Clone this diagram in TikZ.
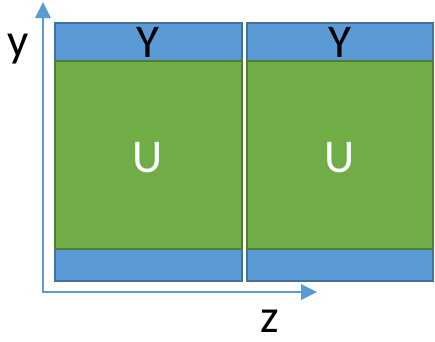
\documentclass[tikz,border=0pt]{standalone}
\usepackage{fontspec}
\setmainfont{Carlito}
\definecolor{oblue}{HTML}{5B9BD5}
\definecolor{oblueb}{HTML}{41719C}
\definecolor{ogreen}{HTML}{70AD47}
\definecolor{ogreenb}{HTML}{507E32}
\begin{document}
\begin{tikzpicture}[x=1pt,y=-1pt,
  bluebox/.style={fill=oblue,draw=oblueb,line width=2pt},
  greenbox/.style={fill=ogreen,draw=ogreenb,line width=2pt},
  axis/.style={draw=oblue,line width=2pt},
  tip/.style={fill=oblue},
  lbl/.style={font=\fontsize{47}{47}\selectfont,inner sep=0pt}]
\useasboundingbox (0,0) rectangle (435,341);
% left column
\draw[bluebox] (55,23) rectangle (242,61);
\draw[bluebox] (55,249) rectangle (242,281);
\draw[greenbox] (55,61) rectangle (242,249);
% right column
\draw[bluebox] (247,23) rectangle (433,61);
\draw[bluebox] (247,249) rectangle (433,281);
\draw[greenbox] (247,61) rectangle (433,249);
\node[lbl,text=black] (y1) at (148,42) {Y};
\node[lbl,text=black] (y2) at (340,42) {Y};
\node[lbl,text=white] (u1) at (148,158) {U};
\node[lbl,text=white] (u2) at (340,158) {U};
\coordinate (o) at (43,292);
\coordinate (by) at (43,18);
\coordinate (bz) at (301,292);
\draw[axis] (by) -- (o) -- (bz);
\fill[tip] (43,2) -- (35,18) -- (51,18) -- cycle;
\fill[tip] (317,292) -- (301,284) -- (301,300) -- cycle;
\node[lbl,text=black,anchor=base] (ly) at (18,56) {y};
\node[lbl,text=black,anchor=base] (lz) at (270,332) {z};
\end{tikzpicture}
\end{document}
